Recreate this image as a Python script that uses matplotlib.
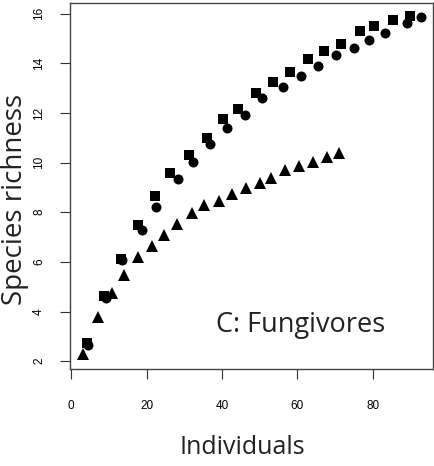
import matplotlib
matplotlib.use("Agg")
import matplotlib.pyplot as plt

# squares
sq_x = [4.2, 8.7, 13.2, 17.7, 22.3, 26.2, 31.3, 36.0, 40.3, 44.2, 49.0, 53.5, 58.0,
        62.8, 67.0, 71.5, 76.6, 80.3, 85.3, 89.8]
sq_y = [2.73, 4.62, 6.11, 7.48, 8.65, 9.58, 10.31, 10.99, 11.76, 12.16, 12.81, 13.25,
        13.65, 14.18, 14.50, 14.78, 15.31, 15.51, 15.75, 15.91]

# circles
ci_x = [4.5, 9.3, 13.5, 18.8, 22.5, 28.3, 32.3, 36.8, 41.3, 46.1, 50.6, 56.2, 60.9,
        65.4, 70.2, 75.0, 78.9, 83.2, 89.0, 92.7]
ci_y = [2.65, 4.54, 6.07, 7.28, 8.21, 9.34, 10.02, 10.75, 11.40, 11.92, 12.60, 13.05,
        13.49, 13.90, 14.34, 14.62, 14.94, 15.23, 15.63, 15.87]

# triangles
tr_x = [3.2, 7.2, 10.9, 14.0, 17.7, 21.5, 24.6, 28.1, 32.1, 35.2, 39.2, 42.6, 46.4,
        50.1, 53.0, 56.7, 60.4, 64.1, 67.8, 71.0]
tr_y = [2.28, 3.77, 4.74, 5.47, 6.19, 6.62, 7.08, 7.52, 7.97, 8.29, 8.45, 8.73, 8.98,
        9.18, 9.38, 9.70, 9.86, 10.02, 10.23, 10.39]

xticks = [0, 20, 40, 60, 80]
yticks = [2, 4, 6, 8, 10, 12, 14, 16]

fig = plt.figure(figsize=(4.35, 4.66), dpi=100)
ax = fig.add_axes([0.161, 0.208, 0.834, 0.786])

ax.plot(sq_x, sq_y, 's', color='black', markersize=7.5, markeredgewidth=0)
ax.plot(ci_x, ci_y, 'o', color='black', markersize=7.2, markeredgewidth=0)
ax.plot(tr_x, tr_y, '^', color='black', markersize=8.5, markeredgewidth=0)

ax.set_xlim(-0.3, 95.9)
ax.set_ylim(1.68, 16.44)
ax.set_xticks(xticks)
ax.set_yticks(yticks)
ax.tick_params(axis='both', length=7, width=0.8, color='#333333', labelsize=8.5, direction='out')
ax.tick_params(axis='x', pad=15)
ax.tick_params(axis='y', pad=11)
for lab in ax.get_xticklabels() + ax.get_yticklabels():
    lab.set_family('Liberation Sans')
for lab in ax.get_yticklabels():
    lab.set_rotation(90)
    lab.set_va('center')
for s in ax.spines.values():
    s.set_color('#444444')
    s.set_linewidth(1.0)

ax.set_xlabel('Individuals', family='Open Sans', fontsize=18, color='#222222', va='center')
ax.xaxis.set_label_coords(0.474, -0.213)
ax.set_ylabel('Species richness', family='Open Sans', fontsize=20, color='#222222', va='center')
ax.yaxis.set_label_coords(-0.152, 0.462)
ax.text(0.636, 0.12, 'C: Fungivores', transform=ax.transAxes, family='Open Sans',
        fontsize=19.5, color='#222222', ha='center', va='center')

fig.savefig('out.png', dpi=100)
